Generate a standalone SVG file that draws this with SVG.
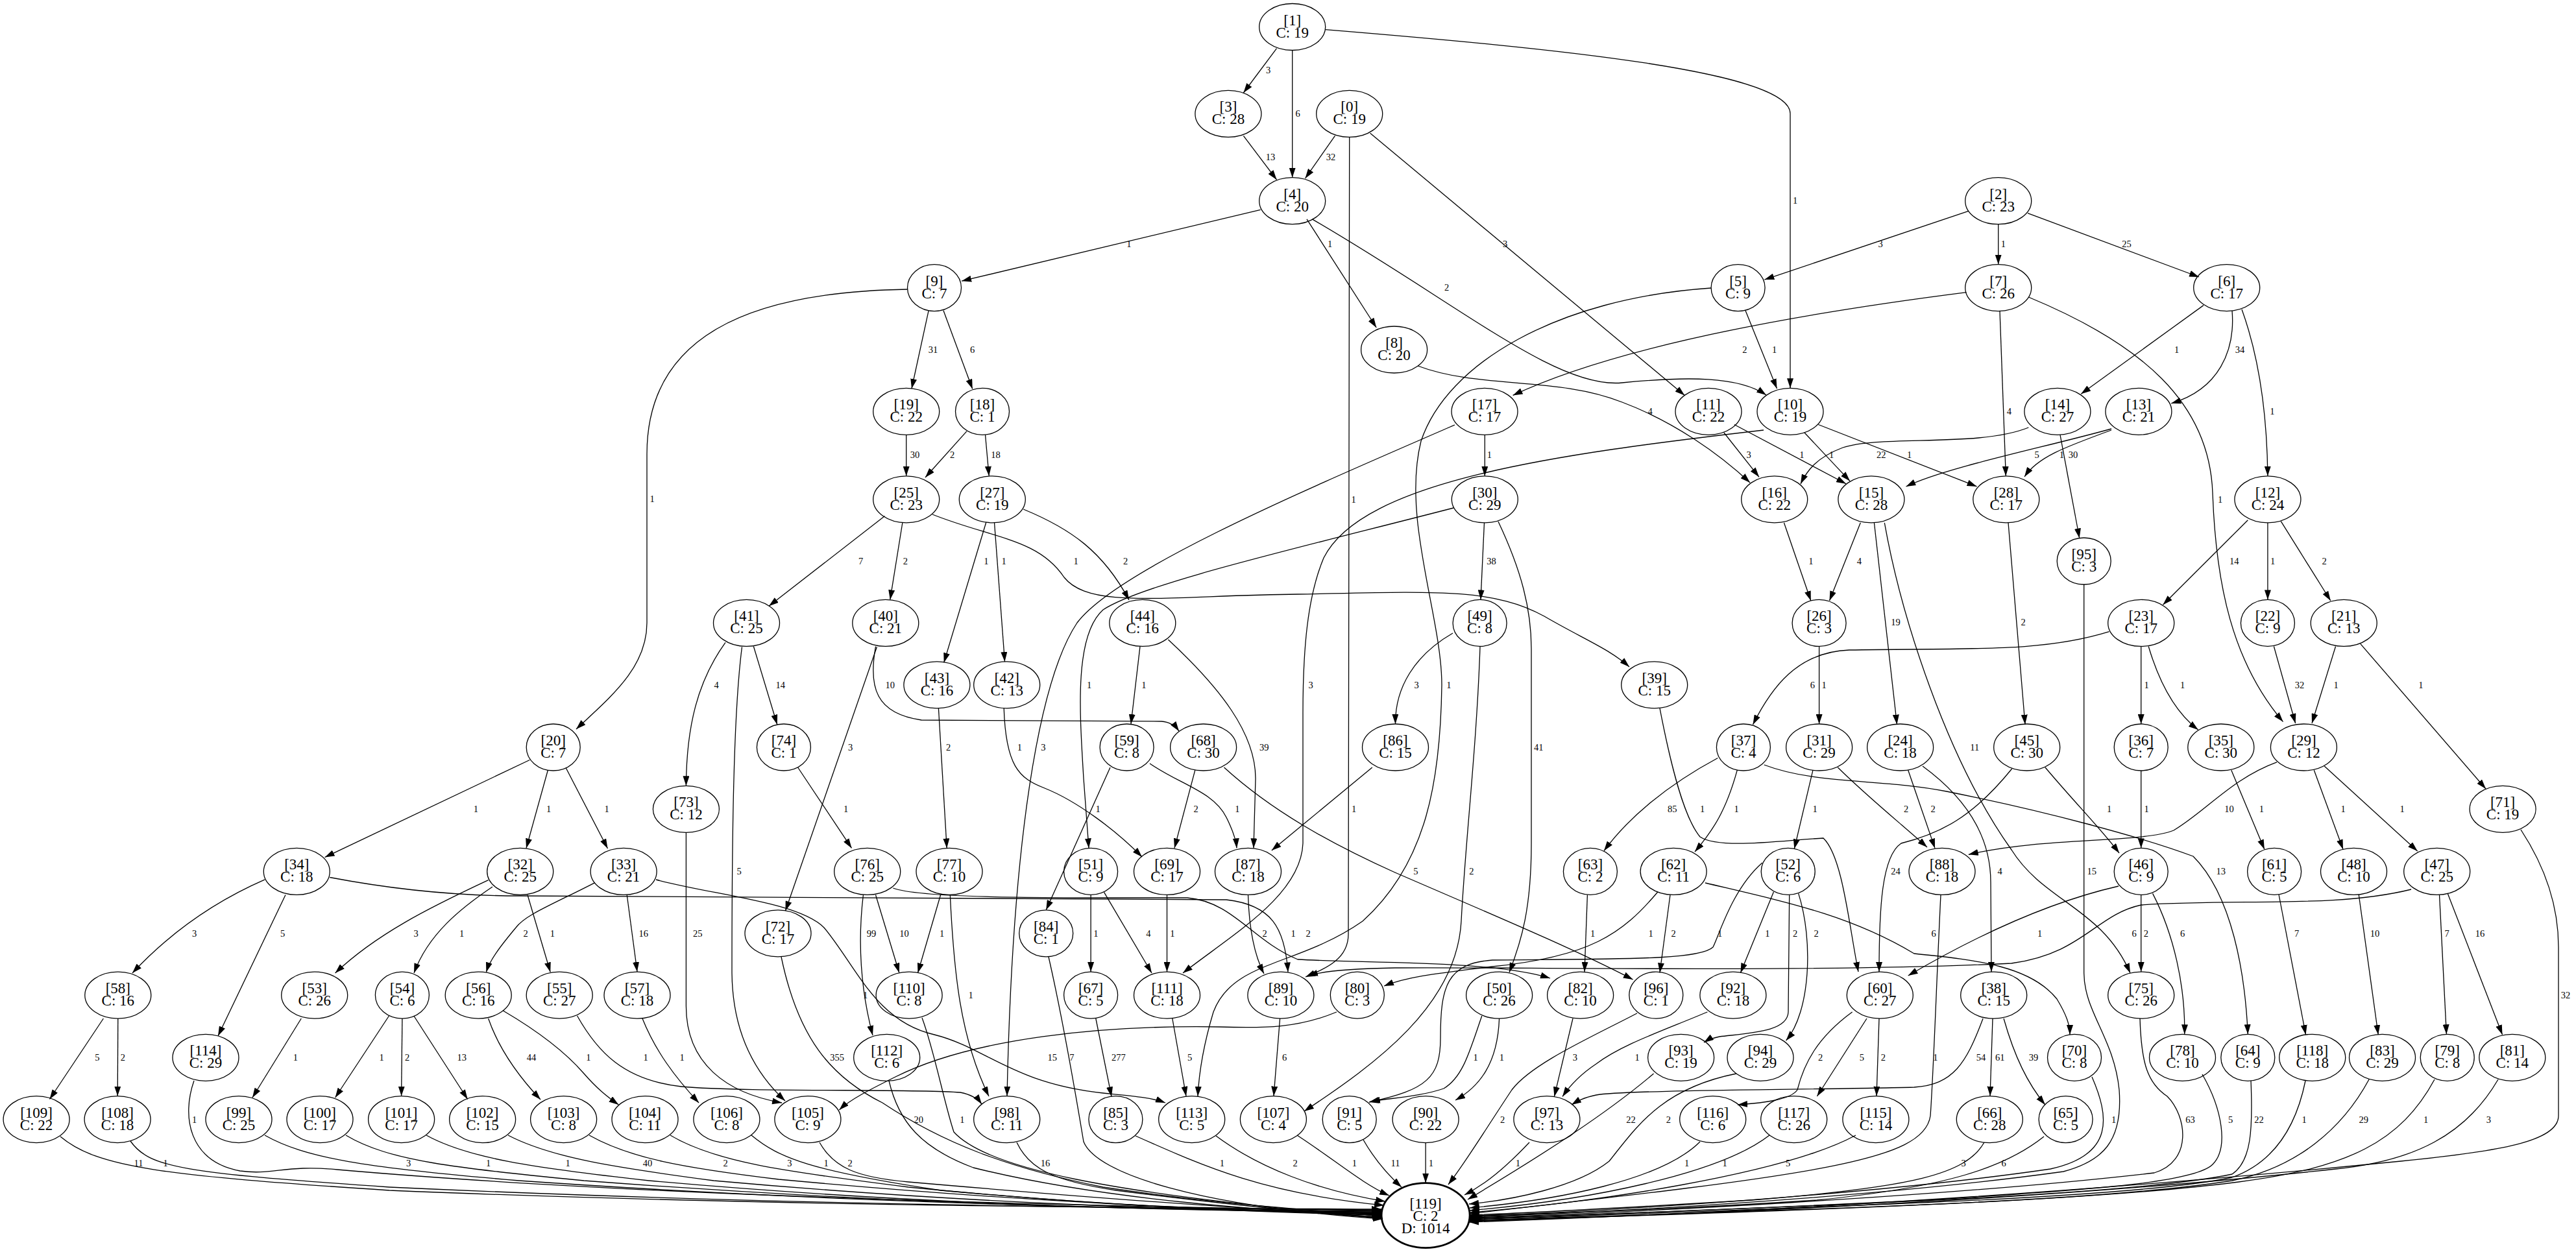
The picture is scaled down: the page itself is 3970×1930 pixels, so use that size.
<svg xmlns="http://www.w3.org/2000/svg" width="3970" height="1930" viewBox="0 0 3970 1930">
<defs>
<marker id="ah" viewBox="0 0 15 10" refX="15" refY="5" markerWidth="15" markerHeight="10" markerUnits="userSpaceOnUse" orient="auto"><path d="M0,0 L15,5 L0,10 z" fill="#000"/></marker>
</defs>
<style>
.node ellipse{fill:none;stroke:#000;stroke-width:1.3}
.node text{font-family:"Liberation Serif","Times New Roman",serif;font-size:23px;text-anchor:middle;fill:#000}
#edges path{fill:none;stroke:#000;stroke-width:1.3;marker-end:url(#ah)}
#edges text{font-family:"Liberation Serif","Times New Roman",serif;font-size:14.5px;text-anchor:middle;fill:#000}
</style>
<rect width="3970" height="1930" fill="#fff"/>
<g id="edges">
<g><path d="M1967.5,74.6 L1916.4,143"/><text x="1954.7" y="112.8">3</text></g>
<g><path d="M1991.7,77.5 L1991.7,273.7"/><text x="2000" y="180">6</text></g>
<g><path d="M2042.7,45.6 C2400,75 2759,110 2759,175 L2759,598.3"/><text x="2766.6" y="313.8">1</text></g>
<g><path d="M1916.4,209.4 L1967.5,277"/><text x="1957.9" y="246.7">13</text></g>
<g><path d="M2057.4,209.4 L2011.5,275"/><text x="2051" y="246.7">32</text></g>
<g><path d="M2111.6,205.2 L2596.3,609.4"/><text x="2319.5" y="380.6">3</text></g>
<g><path d="M2079.7,211.4 L2078,1440 C2078,1478 2045,1492 2012,1506"/><text x="2086" y="774.8">1</text></g>
<g><path d="M1942.6,323.4 L1482.1,433.2"/><text x="1739.8" y="381.4">1</text></g>
<g><path d="M2014,337.9 L2121.2,505"/><text x="2049.7" y="381.4">1</text></g>
<g><path d="M2022.3,337.9 C2250,470 2400,600 2500,590 C2600,580 2680,580 2722,609"/><text x="2229.6" y="447.7">2</text></g>
<g><path d="M1431.1,478.8 L1405,599"/><text x="1438" y="544">31</text></g>
<g><path d="M1454,478.8 L1498.7,599.5"/><text x="1498.7" y="544">6</text></g>
<g><path d="M1398.5,446 C1150,450 997,520 997,700 L997,960 C997,1030 940,1075 888,1124"/><text x="1005" y="773.5">1</text></g>
<g><path d="M3033.8,325.4 L2719.4,431.1"/><text x="2898" y="381.4">3</text></g>
<g><path d="M3079.7,345.7 L3079.7,407.6"/><text x="3087.3" y="381.4">1</text></g>
<g><path d="M3125,328.7 L3389,427"/><text x="3277.4" y="381.4">25</text></g>
<g><path d="M2690,478.8 L2738.5,599"/><text x="2734.7" y="544">1</text></g>
<g><path d="M2637,444 C2400,460 2230,560 2190,680 C2160,800 2222,950 2222,1056 C2220,1200 2200,1330 2100,1420 C2000,1490 1900,1480 1870,1560 C1855,1610 1848,1650 1846,1690"/><text x="2232.8" y="1060.8">1</text></g>
<g><path d="M3396,470.6 L3207.2,607.3"/><text x="3354.6" y="544">1</text></g>
<g><path d="M3440,479 C3445,540 3420,600 3346.3,621.8"/><text x="3452.1" y="544">34</text></g>
<g><path d="M3455,477 C3485,560 3494,650 3494.9,733.8"/><text x="3501.9" y="639.3">1</text></g>
<g><path d="M3030.6,450.6 C2800,480 2500,530 2331.6,609.4"/><text x="2688.8" y="544">2</text></g>
<g><path d="M3082,479.6 L3091.3,733.8"/><text x="3096.3" y="639.3">4</text></g>
<g><path d="M3126.3,458 C3300,530 3405,620 3410,760 C3415,900 3440,1020 3518.5,1112.6"/><text x="3421.5" y="774.8">1</text></g>
<g><path d="M2185,564 C2280,600 2400,580 2500,620 C2580,650 2650,700 2697,744"/><text x="2543" y="639.3">4</text></g>
<g><path d="M2288.3,670.3 L2288.3,733.8"/><text x="2295.3" y="706.4">1</text></g>
<g><path d="M2242,655 C2000,760 1720,880 1660,960 C1600,1050 1560,1300 1552,1689.6"/><text x="1607.8" y="1157">3</text></g>
<g><path d="M2287.5,805.8 L2282,924.4"/><text x="2298.5" y="870">38</text></g>
<g><path d="M2309,804 C2345,880 2360,940 2360,1000 L2360,1300 C2360,1400 2345,1450 2326,1499"/><text x="2371.2" y="1157">41</text></g>
<g><path d="M2240,783 C2000,845 1760,900 1700,940 C1655,980 1664,1100 1670,1200 L1678,1307.4"/><text x="1678.6" y="1060.8">1</text></g>
<g><path d="M2239,976 C2180,1010 2150,1060 2150.5,1116"/><text x="2183" y="1060.8">3</text></g>
<g><path d="M2281,996.4 C2276,1150 2258,1300 2252,1420 C2245,1550 2120,1640 2010,1713"/><text x="2267.9" y="1348.4">2</text></g>
<g><path d="M2656.9,667 L2711,735.3"/><text x="2695" y="706.4">3</text></g>
<g><path d="M2672.8,654.5 L2845,745.7"/><text x="2776.8" y="706.4">1</text></g>
<g><path d="M2781,667 L2851,741.6"/><text x="2822.7" y="706.4">1</text></g>
<g><path d="M2802.3,654.5 L3046.5,749.9"/><text x="2942.6" y="706.4">1</text></g>
<g><path d="M2718,663 C2400,700 2100,740 2040,860 C2015,920 2008,1000 2008,1100 L2008,1300 C2005,1380 1900,1440 1823,1500"/><text x="2020" y="1060.8">3</text></g>
<g><path d="M3126.3,659 C3050,690 2900,670 2840,690 C2800,705 2785,725 2775,746"/><text x="2899.2" y="706.4">22</text></g>
<g><path d="M3175,670.3 L3204.7,829.5"/><text x="3195.1" y="706.4">30</text></g>
<g><path d="M3254,661 C3150,690 3000,720 2937.5,750"/><text x="3139" y="706.4">5</text></g>
<g><path d="M3254,663 C3180,690 3140,705 3120,735"/><text x="3177.3" y="706.4">1</text></g>
<g><path d="M2867.3,805.8 L2819.5,926"/><text x="2865.4" y="870">4</text></g>
<g><path d="M2888.4,805.8 L2923.5,1116.7"/><text x="2921.6" y="964.2">19</text></g>
<g><path d="M2904.3,805.8 C2930,950 3000,1170 3100,1310 C3150,1390 3240,1400 3283,1500"/><text x="3043.3" y="1157">11</text></g>
<g><path d="M2749.4,805.8 L2790.8,926"/><text x="2790.8" y="870">1</text></g>
<g><path d="M2803.6,996.4 L2803.6,1116"/><text x="2811.2" y="1060.8">1</text></g>
<g><path d="M1363.5,795.5 L1185,934.3"/><text x="1326.5" y="870">7</text></g>
<g><path d="M1391,805 L1371.8,924.4"/><text x="1395.4" y="870">2</text></g>
<g><path d="M1437,793 C1530,830 1600,830 1640,890 C1680,940 1800,918 2000,916 C2200,912 2300,905 2380,950 C2440,985 2480,1000 2511,1028"/><text x="1658.2" y="870">1</text></g>
<g><path d="M1396.7,670.3 L1396.7,733.8"/><text x="1410" y="706.4">30</text></g>
<g><path d="M1489.8,664.9 L1426,736"/><text x="1467.5" y="706.4">2</text></g>
<g><path d="M1518.5,670.3 L1524.2,733.8"/><text x="1534.4" y="706.4">18</text></g>
<g><path d="M1519.8,805 L1454.7,1021.4"/><text x="1519.8" y="870">1</text></g>
<g><path d="M1532.5,805.8 L1548.5,1020"/><text x="1547.2" y="870">1</text></g>
<g><path d="M1577.2,785 C1650,815 1700,850 1740,925"/><text x="1734.7" y="870">2</text></g>
<g><path d="M1118,990.3 C1075,1050 1058,1120 1057.4,1211.3"/><text x="1104" y="1060.8">4</text></g>
<g><path d="M1143.5,997.3 C1130,1100 1128,1300 1128,1500 C1129,1600 1170,1660 1210,1697"/><text x="1139" y="1348.4">5</text></g>
<g><path d="M1161.4,996.5 L1197.7,1116.7"/><text x="1202.8" y="1060.8">14</text></g>
<g><path d="M1349.5,996.5 C1338,1060 1350,1100 1420,1110 L1790,1112 C1805,1113 1812,1120 1817,1127"/><text x="1371.8" y="1060.8">10</text></g>
<g><path d="M1351.4,997.3 L1210.5,1404"/><text x="1310.6" y="1157">3</text></g>
<g><path d="M1446.4,1091.8 L1459.2,1307.4"/><text x="1461.7" y="1157">2</text></g>
<g><path d="M1547.2,1091.8 C1550,1180 1570,1200 1610,1215 C1660,1235 1720,1280 1760,1321"/><text x="1571.4" y="1157">1</text></g>
<g><path d="M1757,996.4 L1743,1116"/><text x="1762.8" y="1060.8">1</text></g>
<g><path d="M1800.4,986 C1880,1060 1935,1130 1935,1200 L1932,1307.4"/><text x="1948.3" y="1157">39</text></g>
<g><path d="M1711,1183 L1612.2,1402.8"/><text x="1692" y="1252.3">1</text></g>
<g><path d="M1772,1177 C1820,1210 1870,1220 1890,1260 C1900,1280 1905,1295 1906,1307.4"/><text x="1906.9" y="1252.3">1</text></g>
<g><path d="M1841.8,1187.2 L1810,1307.4"/><text x="1843.1" y="1252.3">2</text></g>
<g><path d="M1886.5,1183 C1960,1250 2050,1300 2150,1345 C2300,1410 2420,1460 2516.6,1510"/><text x="2181.8" y="1348.4">5</text></g>
<g><path d="M1057.4,1283.3 L1057.4,1550 C1057,1640 1120,1685 1205,1700"/><text x="1075.3" y="1443.8">25</text></g>
<g><path d="M1229.6,1183 L1312.5,1307.4"/><text x="1303.6" y="1252.3">1</text></g>
<g><path d="M408.2,1355.9 C330,1390 260,1440 204,1500"/><text x="299.7" y="1443.8">3</text></g>
<g><path d="M440,1379.5 L336,1597"/><text x="435.6" y="1443.8">5</text></g>
<g><path d="M508.3,1352.5 C600,1370 700,1381 800,1381 L1890,1387 C1960,1395 1980,1430 1985,1498.5"/><text x="1993" y="1443.8">1</text></g>
<g><path d="M752.6,1356.7 C660,1400 580,1440 516.6,1500"/><text x="641" y="1443.8">3</text></g>
<g><path d="M759,1367 C710,1400 660,1440 638,1500"/><text x="711.7" y="1443.8">1</text></g>
<g><path d="M813,1379.5 L848.2,1498.5"/><text x="851.4" y="1443.8">1</text></g>
<g><path d="M916.5,1360.8 C850,1395 810,1410 795,1430 C770,1460 755,1480 749.4,1498.5"/><text x="810" y="1443.8">2</text></g>
<g><path d="M966.2,1379.5 L982,1498"/><text x="991.7" y="1443.8">16</text></g>
<g><path d="M1011,1356 C1100,1380 1230,1390 1270,1430 C1320,1490 1350,1575 1440,1595 C1520,1615 1560,1670 1700,1685 C1750,1690 1775,1692 1796,1700"/><text x="1333.5" y="1539.1">1</text></g>
<g><path d="M159.4,1570 L76.5,1694.5"/><text x="149.9" y="1635.3">5</text></g>
<g><path d="M181.8,1570.1 L181.2,1689.6"/><text x="189.4" y="1635.3">2</text></g>
<g><path d="M464.3,1570 L389,1692"/><text x="455.4" y="1635.3">1</text></g>
<g><path d="M599.5,1566 L516.6,1692"/><text x="588" y="1635.3">1</text></g>
<g><path d="M619.9,1570.1 L618.6,1689.6"/><text x="627.6" y="1635.3">2</text></g>
<g><path d="M637.8,1566 L720.7,1694.5"/><text x="711.7" y="1635.3">13</text></g>
<g><path d="M752.6,1570 C770,1620 800,1660 833,1695"/><text x="818.9" y="1635.3">44</text></g>
<g><path d="M774.9,1557.7 C830,1590 870,1620 900,1655 C920,1678 935,1690 953.4,1703"/><text x="906.9" y="1635.3">1</text></g>
<g><path d="M889.6,1566 C920,1620 960,1665 1050,1675 C1150,1684 1400,1678 1480,1684 C1500,1688 1508,1695 1513,1702"/><text x="995" y="1635.3">1</text></g>
<g><path d="M990,1570 C1010,1620 1040,1660 1077,1700"/><text x="1051" y="1635.3">1</text></g>
<g><path d="M1330.4,1379.5 C1322,1450 1325,1520 1345,1596"/><text x="1343.1" y="1443.8">99</text></g>
<g><path d="M1349.5,1379.5 L1385.8,1499.5"/><text x="1393.5" y="1443.8">10</text></g>
<g><path d="M1376.3,1369 C1420,1385 1600,1384 1830,1384 C1900,1390 1930,1450 2000,1479 C2100,1485 2300,1480 2389,1508"/><text x="2016" y="1443.8">2</text></g>
<g><path d="M1449.6,1379.5 L1414.5,1499.7"/><text x="1451.5" y="1443.8">1</text></g>
<g><path d="M1464.3,1379.5 C1470,1500 1480,1600 1524,1690"/><text x="1496.2" y="1539.1">1</text></g>
<g><path d="M1681.1,1379.4 L1681.1,1498"/><text x="1688.8" y="1443.8">1</text></g>
<g><path d="M1701.5,1375.3 L1775,1500"/><text x="1769.8" y="1443.8">4</text></g>
<g><path d="M1798.5,1379.4 L1798.5,1498"/><text x="1806.8" y="1443.8">1</text></g>
<g><path d="M1923.5,1379.4 C1925,1430 1932,1470 1948,1501"/><text x="1949" y="1443.8">2</text></g>
<g><path d="M1688.8,1570 L1713,1690.4"/><text x="1723.9" y="1635.3">277</text></g>
<g><path d="M1806.8,1570 L1828,1689.8"/><text x="1833.5" y="1635.3">5</text></g>
<g><path d="M1972.6,1570 L1963,1689.6"/><text x="1979.6" y="1635.3">6</text></g>
<g><path d="M2114.8,1183 L1959.8,1311"/><text x="2086.7" y="1252.3">1</text></g>
<g><path d="M2060,1560 C2000,1585 1950,1585 1880,1583 C1700,1580 1500,1600 1380,1660 C1340,1680 1310,1695 1293.4,1711"/><text x="1621.8" y="1635.3">15</text></g>
<g><path d="M2647.3,1168.5 C2570,1210 2510,1260 2472,1311.5"/><text x="2577.2" y="1252.3">85</text></g>
<g><path d="M2677.3,1187.2 C2660,1250 2640,1280 2612,1313"/><text x="2676" y="1252.3">1</text></g>
<g><path d="M2718.7,1179 C2800,1210 2900,1200 3000,1220 C3150,1250 3300,1290 3380,1320 C3440,1380 3460,1500 3464.3,1594.3"/><text x="3422.8" y="1348.4">13</text></g>
<g><path d="M2794,1187.2 L2765.3,1308.5"/><text x="2797.2" y="1252.3">1</text></g>
<g><path d="M2832.3,1183 C2880,1230 2930,1270 2970,1306"/><text x="2937.5" y="1252.3">2</text></g>
<g><path d="M2940.7,1187.2 L2982,1307.6"/><text x="2979" y="1252.3">2</text></g>
<g><path d="M2963,1181 C3030,1230 3068,1290 3068,1360 L3069,1498"/><text x="3082" y="1348.4">4</text></g>
<g><path d="M3250.6,973.7 C3150,1005 3050,999 2850,1002 C2770,1005 2730,1060 2701.5,1117"/><text x="2793.3" y="1060.8">6</text></g>
<g><path d="M3299.7,996.4 L3299.7,1116"/><text x="3308" y="1060.8">1</text></g>
<g><path d="M3311.2,996.5 C3330,1060 3355,1100 3387.7,1125"/><text x="3363.5" y="1060.8">1</text></g>
<g><path d="M3504.4,996.5 L3537.6,1115"/><text x="3544" y="1060.8">32</text></g>
<g><path d="M3599.5,996.5 L3563,1115"/><text x="3600" y="1060.8">1</text></g>
<g><path d="M3637.7,992.4 L3831,1216"/><text x="3730.8" y="1060.8">1</text></g>
<g><path d="M3464.3,801.7 L3333.5,932.3"/><text x="3443.2" y="870">14</text></g>
<g><path d="M3494.9,805.8 L3494.9,924.4"/><text x="3502.5" y="870">1</text></g>
<g><path d="M3515.3,803.7 L3591.8,926"/><text x="3582.2" y="870">2</text></g>
<g><path d="M3095,805.8 L3121,1116.7"/><text x="3118" y="964.2">2</text></g>
<g><path d="M3100.7,1185 C3040,1260 2990,1285 2930,1300 C2900,1320 2896,1400 2896,1498"/><text x="2921.6" y="1348.4">24</text></g>
<g><path d="M3152,1183 C3200,1240 3240,1280 3266,1315"/><text x="3250.6" y="1252.3">1</text></g>
<g><path d="M3299.7,1188 L3299.7,1307.4"/><text x="3308" y="1252.3">1</text></g>
<g><path d="M3509,1174.8 C3440,1200 3400,1250 3350,1280 C3300,1300 3150,1290 3033.8,1317.3"/><text x="3435.6" y="1252.3">10</text></g>
<g><path d="M3438.8,1187.2 L3489.8,1309.2"/><text x="3485.3" y="1252.3">1</text></g>
<g><path d="M3566.3,1187.2 L3611,1309.2"/><text x="3611" y="1252.3">1</text></g>
<g><path d="M3582.2,1181 L3725.7,1312"/><text x="3702" y="1252.3">1</text></g>
<g><path d="M3299.7,1379.4 L3299.7,1498"/><text x="3307.4" y="1443.8">2</text></g>
<g><path d="M3317.6,1377.4 C3350,1440 3368,1520 3366.7,1594.3"/><text x="3363.5" y="1443.8">6</text></g>
<g><path d="M3265,1366 C3160,1390 3050,1440 2940.7,1504"/><text x="3143.5" y="1443.8">1</text></g>
<g><path d="M3512,1379 L3553.5,1595"/><text x="3539.5" y="1443.8">7</text></g>
<g><path d="M3635.2,1379 L3665.2,1595"/><text x="3660" y="1443.8">10</text></g>
<g><path d="M3759.5,1379.4 L3770.4,1594.3"/><text x="3771" y="1443.8">7</text></g>
<g><path d="M3772.3,1377.4 L3856.5,1595"/><text x="3822" y="1443.8">16</text></g>
<g><path d="M3716,1371 C3600,1400 3450,1385 3300,1395 C3230,1410 3210,1470 3100,1485 C2800,1500 2300,1490 2150,1492 C2080,1493 2040,1497 2016,1504"/><text x="3289" y="1443.8">6</text></g>
<g><path d="M3071,1570 L3067,1689.6"/><text x="3082.2" y="1635.3">61</text></g>
<g><path d="M3088,1570 C3105,1630 3125,1670 3151.8,1703"/><text x="3133.9" y="1635.3">39</text></g>
<g><path d="M3056.1,1570 C3030,1640 3010,1672 2950,1676 C2800,1680 2500,1680 2460,1688 C2440,1692 2430,1698 2422,1703"/><text x="3053" y="1635.3">54</text></g>
<g><path d="M2854.6,1560 C2800,1600 2780,1640 2770,1680 C2760,1695 2720,1700 2678,1703"/><text x="2805.5" y="1635.3">2</text></g>
<g><path d="M2877,1570 L2800.4,1690"/><text x="2869.3" y="1635.3">5</text></g>
<g><path d="M2896,1570.1 L2892,1689.6"/><text x="2902.4" y="1635.3">2</text></g>
<g><path d="M2631.4,1560 C2560,1590 2500,1610 2460,1640 C2430,1660 2415,1680 2408,1690.4"/><text x="2523" y="1635.3">1</text></g>
<g><path d="M2424,1570 L2395.4,1690.4"/><text x="2427.3" y="1635.3">3</text></g>
<g><path d="M2283.8,1566 C2265,1620 2255,1660 2225,1678 C2190,1690 2150,1692 2112,1698"/><text x="2274.2" y="1635.3">1</text></g>
<g><path d="M2310.6,1570 C2308,1640 2280,1675 2243,1696"/><text x="2314.4" y="1635.3">1</text></g>
<g><path d="M2446.4,1379.5 L2442,1498"/><text x="2454.7" y="1443.8">1</text></g>
<g><path d="M2554.8,1375 C2500,1440 2450,1475 2300,1490 C2220,1500 2170,1505 2133,1520"/><text x="2544" y="1443.8">1</text></g>
<g><path d="M2574,1379.5 L2558,1499.5"/><text x="2579" y="1443.8">2</text></g>
<g><path d="M2628,1361 C2750,1390 2850,1410 2950,1470 C3050,1480 3130,1490 3170,1540 C3185,1565 3190,1580 3190,1595"/><text x="2980" y="1443.8">6</text></g>
<g><path d="M2733.4,1375 L2682.4,1499.7"/><text x="2723.9" y="1443.8">1</text></g>
<g><path d="M2757.7,1379.5 L2756,1560 C2755,1590 2700,1592 2650,1598 C2640,1600 2632,1603 2626,1607"/><text x="2766.6" y="1443.8">2</text></g>
<g><path d="M2771.7,1377.4 C2795,1450 2790,1560 2752.6,1604"/><text x="2799" y="1443.8">2</text></g>
<g><path d="M2716,1330 C2670,1370 2650,1440 2640,1460 C2620,1480 2500,1478 2300,1480 C2230,1485 2220,1520 2220,1600 C2220,1660 2200,1680 2110,1699"/><text x="2650.5" y="1443.8">1</text></g>
<g><path d="M2558,1091.8 C2575,1180 2595,1260 2620,1290 C2650,1310 2750,1295 2810,1292 C2840,1320 2850,1430 2864,1498"/><text x="2623.7" y="1252.3">1</text></g>
<g><path d="M816.3,1171.5 L500.6,1321.5"/><text x="733.4" y="1252.3">1</text></g>
<g><path d="M844.3,1187.5 L811,1307.5"/><text x="845.7" y="1252.3">1</text></g>
<g><path d="M872.3,1184 L936.5,1308"/><text x="935" y="1252.3">1</text></g>
<g><path d="M1204,1475 C1230,1600 1280,1660 1360,1700 C1450,1760 1550,1800 1700,1830 C1900,1860 2050,1866 2130,1875"/><text x="1290.2" y="1635.3">355</text></g>
<g><path d="M93,1752 C150,1800 250,1812 600,1835 C1200,1860 1800,1862 2129,1864"/><text x="213.6" y="1797.8">11</text></g>
<g><path d="M201,1759 C230,1800 280,1808 600,1830 C1200,1858 1800,1863 2129,1865"/><text x="255.1" y="1797.8">1</text></g>
<g><path d="M299,1666 C280,1720 290,1790 370,1805 C420,1812 440,1795 520,1803 C1000,1845 1700,1860 2129,1866"/><text x="299.7" y="1730.6">1</text></g>
<g><path d="M408,1750 C470,1785 560,1800 800,1820 C1300,1855 1800,1865 2129,1867"/><text x="629.5" y="1797.8">3</text></g>
<g><path d="M533,1750 C600,1790 700,1800 900,1820 C1400,1858 1800,1866 2129,1868"/><text x="752.6" y="1797.8">1</text></g>
<g><path d="M657,1750 C720,1785 820,1800 1000,1820 C1400,1856 1800,1867 2129,1869"/><text x="875" y="1797.8">1</text></g>
<g><path d="M783,1750 C850,1785 950,1800 1100,1820 C1500,1856 1850,1866 2129,1870"/><text x="998" y="1797.8">40</text></g>
<g><path d="M908,1750 C970,1785 1050,1800 1200,1818 C1600,1855 1900,1866 2129,1871"/><text x="1118" y="1797.8">2</text></g>
<g><path d="M1033,1750 C1100,1790 1200,1805 1400,1830 C1700,1860 1950,1868 2129,1872"/><text x="1216.8" y="1797.8">3</text></g>
<g><path d="M1158,1750 C1200,1785 1250,1805 1450,1835 C1750,1862 1950,1869 2129,1873"/><text x="1273" y="1797.8">1</text></g>
<g><path d="M1263,1761 C1285,1800 1320,1815 1400,1822 C1700,1848 1950,1866 2130,1874"/><text x="1310" y="1797.8">2</text></g>
<g><path d="M1370,1666 C1385,1730 1420,1770 1500,1800 C1700,1850 1950,1866 2130,1876"/><text x="1415.8" y="1730.6">20</text></g>
<g><path d="M1421,1569 C1440,1620 1455,1700 1470,1745 C1520,1800 1700,1840 2130,1877"/><text x="1482.8" y="1730.6">1</text></g>
<g><path d="M1567,1761 C1585,1800 1620,1820 1720,1835 C1900,1858 2050,1872 2131,1878"/><text x="1611" y="1797.8">16</text></g>
<g><path d="M1616,1475 C1640,1580 1660,1700 1670,1760 C1690,1810 1850,1860 2131,1879"/><text x="1651.8" y="1635.3">7</text></g>
<g><path d="M1750,1751 C1860,1800 1950,1840 2133,1858"/><text x="1883.3" y="1797.8">1</text></g>
<g><path d="M1874,1751 C1940,1800 2030,1835 2135,1852"/><text x="1996" y="1797.8">2</text></g>
<g><path d="M1999,1750 C2060,1790 2100,1825 2141,1843"/><text x="2087.4" y="1797.8">1</text></g>
<g><path d="M2101,1757 C2120,1790 2140,1812 2160,1830"/><text x="2150.5" y="1797.8">11</text></g>
<g><path d="M2197.1,1761.6 L2197.1,1823.6"/><text x="2205.4" y="1797.8">1</text></g>
<g><path d="M2357,1761 C2320,1800 2290,1825 2257,1842"/><text x="2339.3" y="1797.8">1</text></g>
<g><path d="M2523,1562 C2450,1600 2360,1640 2330,1680 C2290,1740 2260,1790 2232,1826"/><text x="2315.7" y="1730.6">2</text></g>
<g><path d="M2548.5,1655 C2478,1715 2382.6,1777 2262,1849"/><text x="2513.4" y="1730.6">22</text></g>
<g><path d="M2676,1655 C2561,1678 2523,1736 2480,1790 C2430,1830 2330,1850 2264,1856"/><text x="2571.4" y="1730.6">2</text></g>
<g><path d="M2620,1760 C2560,1820 2400,1850 2265,1862"/><text x="2599.5" y="1797.8">1</text></g>
<g><path d="M2727,1750 C2650,1810 2450,1850 2265,1866"/><text x="2658.2" y="1797.8">1</text></g>
<g><path d="M2860,1750 C2750,1810 2450,1855 2265,1869"/><text x="2755.7" y="1797.8">5</text></g>
<g><path d="M2991,1379.4 C2985,1500 2980,1650 2975,1720 C2965,1790 2800,1810 2265,1871"/><text x="2982.8" y="1635.3">1</text></g>
<g><path d="M3058,1761 C3030,1810 2950,1830 2700,1850 C2500,1862 2350,1870 2265,1873"/><text x="3026.1" y="1797.8">3</text></g>
<g><path d="M3150,1752 C3090,1800 3000,1830 2800,1850 C2550,1866 2350,1872 2265,1874"/><text x="3088" y="1797.8">6</text></g>
<g><path d="M3224,1660 C3250,1720 3260,1780 3160,1802 C2900,1840 2500,1866 2265,1875"/><text x="3257.6" y="1730.6">1</text></g>
<g><path d="M3211.7,901 L3211.7,1500 C3212,1560 3258,1600 3266,1680 C3272,1760 3240,1790 3180,1806 C2900,1845 2500,1868 2265,1876"/><text x="3223.8" y="1348.4">15</text></g>
<g><path d="M3298,1570 C3300,1640 3310,1670 3340,1690 C3370,1720 3380,1790 3320,1808 C3000,1845 2500,1870 2265,1877"/><text x="3375.6" y="1730.6">63</text></g>
<g><path d="M3394,1656 C3425,1710 3435,1770 3410,1795 C3380,1825 3200,1835 2970,1850 C2600,1868 2350,1876 2265,1878"/><text x="3437.5" y="1730.6">5</text></g>
<g><path d="M3469,1666 C3472,1740 3470,1790 3440,1810 C3300,1840 2900,1856 2265,1879"/><text x="3481.5" y="1730.6">22</text></g>
<g><path d="M3553,1666 C3540,1730 3510,1790 3440,1815 C3300,1845 2900,1858 2265,1880"/><text x="3551" y="1730.6">1</text></g>
<g><path d="M3651,1664 C3610,1740 3540,1800 3440,1820 C3250,1850 2900,1862 2264,1881"/><text x="3642.8" y="1730.6">29</text></g>
<g><path d="M3752,1664 C3700,1760 3620,1800 3450,1822 C3250,1848 2900,1863 2264,1882"/><text x="3738.5" y="1730.6">1</text></g>
<g><path d="M3850,1664 C3800,1750 3720,1790 3600,1802 C3300,1835 2900,1862 2264,1883"/><text x="3835.4" y="1730.6">3</text></g>
<g><path d="M3885,1279 C3925,1340 3943,1400 3943,1460 L3943,1720 C3943,1760 3850,1775 3700,1790 C3300,1830 2800,1866 2264,1884"/><text x="3954" y="1539.1">32</text></g>
</g>
<g id="nodes">
<g id="node0" class="node"><ellipse cx="2079.7" cy="175.4" rx="51" ry="36"/><text x="2079.7" y="172.4">[0]</text><text x="2079.7" y="191.4">C: 19</text></g>
<g id="node1" class="node"><ellipse cx="1991.7" cy="41.5" rx="51" ry="36"/><text x="1991.7" y="38.5">[1]</text><text x="1991.7" y="57.5">C: 19</text></g>
<g id="node2" class="node"><ellipse cx="3079.7" cy="309.7" rx="51" ry="36"/><text x="3079.7" y="306.7">[2]</text><text x="3079.7" y="325.7">C: 23</text></g>
<g id="node3" class="node"><ellipse cx="1892.9" cy="175.4" rx="51" ry="36"/><text x="1892.9" y="172.4">[3]</text><text x="1892.9" y="191.4">C: 28</text></g>
<g id="node4" class="node"><ellipse cx="1991.7" cy="309.7" rx="51" ry="36"/><text x="1991.7" y="306.7">[4]</text><text x="1991.7" y="325.7">C: 20</text></g>
<g id="node5" class="node"><ellipse cx="2678.6" cy="443.6" rx="41.5" ry="36"/><text x="2678.6" y="440.6">[5]</text><text x="2678.6" y="459.6">C: 9</text></g>
<g id="node6" class="node"><ellipse cx="3431.7" cy="443.6" rx="51" ry="36"/><text x="3431.7" y="440.6">[6]</text><text x="3431.7" y="459.6">C: 17</text></g>
<g id="node7" class="node"><ellipse cx="3079.7" cy="443.6" rx="51" ry="36"/><text x="3079.7" y="440.6">[7]</text><text x="3079.7" y="459.6">C: 26</text></g>
<g id="node8" class="node"><ellipse cx="2148.6" cy="539" rx="51" ry="36"/><text x="2148.6" y="536">[8]</text><text x="2148.6" y="555">C: 20</text></g>
<g id="node9" class="node"><ellipse cx="1440" cy="443.6" rx="41.5" ry="36"/><text x="1440" y="440.6">[9]</text><text x="1440" y="459.6">C: 7</text></g>
<g id="node10" class="node"><ellipse cx="2759" cy="634.3" rx="51" ry="36"/><text x="2759" y="631.3">[10]</text><text x="2759" y="650.3">C: 19</text></g>
<g id="node11" class="node"><ellipse cx="2633" cy="634.3" rx="51" ry="36"/><text x="2633" y="631.3">[11]</text><text x="2633" y="650.3">C: 22</text></g>
<g id="node12" class="node"><ellipse cx="3494.9" cy="769.8" rx="51" ry="36"/><text x="3494.9" y="766.8">[12]</text><text x="3494.9" y="785.8">C: 24</text></g>
<g id="node13" class="node"><ellipse cx="3295.9" cy="634.3" rx="51" ry="36"/><text x="3295.9" y="631.3">[13]</text><text x="3295.9" y="650.3">C: 21</text></g>
<g id="node14" class="node"><ellipse cx="3170.9" cy="634.3" rx="51" ry="36"/><text x="3170.9" y="631.3">[14]</text><text x="3170.9" y="650.3">C: 27</text></g>
<g id="node15" class="node"><ellipse cx="2883.9" cy="769.8" rx="51" ry="36"/><text x="2883.9" y="766.8">[15]</text><text x="2883.9" y="785.8">C: 28</text></g>
<g id="node16" class="node"><ellipse cx="2734.7" cy="769.8" rx="51" ry="36"/><text x="2734.7" y="766.8">[16]</text><text x="2734.7" y="785.8">C: 22</text></g>
<g id="node17" class="node"><ellipse cx="2288" cy="634.3" rx="51" ry="36"/><text x="2288" y="631.3">[17]</text><text x="2288" y="650.3">C: 17</text></g>
<g id="node18" class="node"><ellipse cx="1514" cy="634.3" rx="41.5" ry="36"/><text x="1514" y="631.3">[18]</text><text x="1514" y="650.3">C: 1</text></g>
<g id="node19" class="node"><ellipse cx="1396.7" cy="634.3" rx="51" ry="36"/><text x="1396.7" y="631.3">[19]</text><text x="1396.7" y="650.3">C: 22</text></g>
<g id="node20" class="node"><ellipse cx="852.7" cy="1152" rx="41.5" ry="36"/><text x="852.7" y="1149">[20]</text><text x="852.7" y="1168">C: 7</text></g>
<g id="node21" class="node"><ellipse cx="3612.2" cy="960.4" rx="51" ry="36"/><text x="3612.2" y="957.4">[21]</text><text x="3612.2" y="976.4">C: 13</text></g>
<g id="node22" class="node"><ellipse cx="3494.9" cy="960.4" rx="41.5" ry="36"/><text x="3494.9" y="957.4">[22]</text><text x="3494.9" y="976.4">C: 9</text></g>
<g id="node23" class="node"><ellipse cx="3299.7" cy="960.4" rx="51" ry="36"/><text x="3299.7" y="957.4">[23]</text><text x="3299.7" y="976.4">C: 17</text></g>
<g id="node24" class="node"><ellipse cx="2928.6" cy="1152" rx="51" ry="36"/><text x="2928.6" y="1149">[24]</text><text x="2928.6" y="1168">C: 18</text></g>
<g id="node25" class="node"><ellipse cx="1396.7" cy="769.8" rx="51" ry="36"/><text x="1396.7" y="766.8">[25]</text><text x="1396.7" y="785.8">C: 23</text></g>
<g id="node26" class="node"><ellipse cx="2803.6" cy="960.4" rx="41.5" ry="36"/><text x="2803.6" y="957.4">[26]</text><text x="2803.6" y="976.4">C: 3</text></g>
<g id="node27" class="node"><ellipse cx="1529.3" cy="769.8" rx="51" ry="36"/><text x="1529.3" y="766.8">[27]</text><text x="1529.3" y="785.8">C: 19</text></g>
<g id="node28" class="node"><ellipse cx="3091.8" cy="769.8" rx="51" ry="36"/><text x="3091.8" y="766.8">[28]</text><text x="3091.8" y="785.8">C: 17</text></g>
<g id="node29" class="node"><ellipse cx="3550.4" cy="1152" rx="51" ry="36"/><text x="3550.4" y="1149">[29]</text><text x="3550.4" y="1168">C: 12</text></g>
<g id="node30" class="node"><ellipse cx="2288.3" cy="769.8" rx="51" ry="36"/><text x="2288.3" y="766.8">[30]</text><text x="2288.3" y="785.8">C: 29</text></g>
<g id="node31" class="node"><ellipse cx="2803.6" cy="1152" rx="51" ry="36"/><text x="2803.6" y="1149">[31]</text><text x="2803.6" y="1168">C: 29</text></g>
<g id="node32" class="node"><ellipse cx="801.7" cy="1343.4" rx="51" ry="36"/><text x="801.7" y="1340.4">[32]</text><text x="801.7" y="1359.4">C: 25</text></g>
<g id="node33" class="node"><ellipse cx="961.1" cy="1343.4" rx="51" ry="36"/><text x="961.1" y="1340.4">[33]</text><text x="961.1" y="1359.4">C: 21</text></g>
<g id="node34" class="node"><ellipse cx="457.3" cy="1343.4" rx="51" ry="36"/><text x="457.3" y="1340.4">[34]</text><text x="457.3" y="1359.4">C: 18</text></g>
<g id="node35" class="node"><ellipse cx="3422.8" cy="1152" rx="51" ry="36"/><text x="3422.8" y="1149">[35]</text><text x="3422.8" y="1168">C: 30</text></g>
<g id="node36" class="node"><ellipse cx="3299.7" cy="1152" rx="41.5" ry="36"/><text x="3299.7" y="1149">[36]</text><text x="3299.7" y="1168">C: 7</text></g>
<g id="node37" class="node"><ellipse cx="2686.9" cy="1152" rx="41.5" ry="36"/><text x="2686.9" y="1149">[37]</text><text x="2686.9" y="1168">C: 4</text></g>
<g id="node38" class="node"><ellipse cx="3072.7" cy="1534.1" rx="51" ry="36"/><text x="3072.7" y="1531.1">[38]</text><text x="3072.7" y="1550.1">C: 15</text></g>
<g id="node39" class="node"><ellipse cx="2549.7" cy="1055.8" rx="51" ry="36"/><text x="2549.7" y="1052.8">[39]</text><text x="2549.7" y="1071.8">C: 15</text></g>
<g id="node40" class="node"><ellipse cx="1364.8" cy="960.4" rx="51" ry="36"/><text x="1364.8" y="957.4">[40]</text><text x="1364.8" y="976.4">C: 21</text></g>
<g id="node41" class="node"><ellipse cx="1150.5" cy="960.4" rx="51" ry="36"/><text x="1150.5" y="957.4">[41]</text><text x="1150.5" y="976.4">C: 25</text></g>
<g id="node42" class="node"><ellipse cx="1551.7" cy="1055.8" rx="51" ry="36"/><text x="1551.7" y="1052.8">[42]</text><text x="1551.7" y="1071.8">C: 13</text></g>
<g id="node43" class="node"><ellipse cx="1443.9" cy="1055.8" rx="51" ry="36"/><text x="1443.9" y="1052.8">[43]</text><text x="1443.9" y="1071.8">C: 16</text></g>
<g id="node44" class="node"><ellipse cx="1760.8" cy="960.4" rx="51" ry="36"/><text x="1760.8" y="957.4">[44]</text><text x="1760.8" y="976.4">C: 16</text></g>
<g id="node45" class="node"><ellipse cx="3123.7" cy="1152" rx="51" ry="36"/><text x="3123.7" y="1149">[45]</text><text x="3123.7" y="1168">C: 30</text></g>
<g id="node46" class="node"><ellipse cx="3299.7" cy="1343.4" rx="41.5" ry="36"/><text x="3299.7" y="1340.4">[46]</text><text x="3299.7" y="1359.4">C: 9</text></g>
<g id="node47" class="node"><ellipse cx="3755.7" cy="1343.4" rx="51" ry="36"/><text x="3755.7" y="1340.4">[47]</text><text x="3755.7" y="1359.4">C: 25</text></g>
<g id="node48" class="node"><ellipse cx="3627.5" cy="1343.4" rx="51" ry="36"/><text x="3627.5" y="1340.4">[48]</text><text x="3627.5" y="1359.4">C: 10</text></g>
<g id="node49" class="node"><ellipse cx="2280.6" cy="960.4" rx="41.5" ry="36"/><text x="2280.6" y="957.4">[49]</text><text x="2280.6" y="976.4">C: 8</text></g>
<g id="node50" class="node"><ellipse cx="2310.6" cy="1534.1" rx="51" ry="36"/><text x="2310.6" y="1531.1">[50]</text><text x="2310.6" y="1550.1">C: 26</text></g>
<g id="node51" class="node"><ellipse cx="1681.1" cy="1343.4" rx="41.5" ry="36"/><text x="1681.1" y="1340.4">[51]</text><text x="1681.1" y="1359.4">C: 9</text></g>
<g id="node52" class="node"><ellipse cx="2755.7" cy="1343.4" rx="41.5" ry="36"/><text x="2755.7" y="1340.4">[52]</text><text x="2755.7" y="1359.4">C: 6</text></g>
<g id="node53" class="node"><ellipse cx="484.7" cy="1534.1" rx="51" ry="36"/><text x="484.7" y="1531.1">[53]</text><text x="484.7" y="1550.1">C: 26</text></g>
<g id="node54" class="node"><ellipse cx="619.9" cy="1534.1" rx="41.5" ry="36"/><text x="619.9" y="1531.1">[54]</text><text x="619.9" y="1550.1">C: 6</text></g>
<g id="node55" class="node"><ellipse cx="862.2" cy="1534.1" rx="51" ry="36"/><text x="862.2" y="1531.1">[55]</text><text x="862.2" y="1550.1">C: 27</text></g>
<g id="node56" class="node"><ellipse cx="737.2" cy="1534.1" rx="51" ry="36"/><text x="737.2" y="1531.1">[56]</text><text x="737.2" y="1550.1">C: 16</text></g>
<g id="node57" class="node"><ellipse cx="982" cy="1534.1" rx="51" ry="36"/><text x="982" y="1531.1">[57]</text><text x="982" y="1550.1">C: 18</text></g>
<g id="node58" class="node"><ellipse cx="181.8" cy="1534.1" rx="51" ry="36"/><text x="181.8" y="1531.1">[58]</text><text x="181.8" y="1550.1">C: 16</text></g>
<g id="node59" class="node"><ellipse cx="1736.6" cy="1152" rx="41.5" ry="36"/><text x="1736.6" y="1149">[59]</text><text x="1736.6" y="1168">C: 8</text></g>
<g id="node60" class="node"><ellipse cx="2897.3" cy="1534.1" rx="51" ry="36"/><text x="2897.3" y="1531.1">[60]</text><text x="2897.3" y="1550.1">C: 27</text></g>
<g id="node61" class="node"><ellipse cx="3505.1" cy="1343.4" rx="41.5" ry="36"/><text x="3505.1" y="1340.4">[61]</text><text x="3505.1" y="1359.4">C: 5</text></g>
<g id="node62" class="node"><ellipse cx="2579.1" cy="1343.4" rx="51" ry="36"/><text x="2579.1" y="1340.4">[62]</text><text x="2579.1" y="1359.4">C: 11</text></g>
<g id="node63" class="node"><ellipse cx="2450.9" cy="1343.4" rx="41.5" ry="36"/><text x="2450.9" y="1340.4">[63]</text><text x="2450.9" y="1359.4">C: 2</text></g>
<g id="node64" class="node"><ellipse cx="3464.3" cy="1630.3" rx="41.5" ry="36"/><text x="3464.3" y="1627.3">[64]</text><text x="3464.3" y="1646.3">C: 9</text></g>
<g id="node65" class="node"><ellipse cx="3183.6" cy="1725.6" rx="41.5" ry="36"/><text x="3183.6" y="1722.6">[65]</text><text x="3183.6" y="1741.6">C: 5</text></g>
<g id="node66" class="node"><ellipse cx="3066.3" cy="1725.6" rx="51" ry="36"/><text x="3066.3" y="1722.6">[66]</text><text x="3066.3" y="1741.6">C: 28</text></g>
<g id="node67" class="node"><ellipse cx="1681.1" cy="1534.1" rx="41.5" ry="36"/><text x="1681.1" y="1531.1">[67]</text><text x="1681.1" y="1550.1">C: 5</text></g>
<g id="node68" class="node"><ellipse cx="1854.6" cy="1152" rx="51" ry="36"/><text x="1854.6" y="1149">[68]</text><text x="1854.6" y="1168">C: 30</text></g>
<g id="node69" class="node"><ellipse cx="1798.5" cy="1343.4" rx="51" ry="36"/><text x="1798.5" y="1340.4">[69]</text><text x="1798.5" y="1359.4">C: 17</text></g>
<g id="node70" class="node"><ellipse cx="3197" cy="1630.3" rx="41.5" ry="36"/><text x="3197" y="1627.3">[70]</text><text x="3197" y="1646.3">C: 8</text></g>
<g id="node71" class="node"><ellipse cx="3857.1" cy="1247.3" rx="51" ry="36"/><text x="3857.1" y="1244.3">[71]</text><text x="3857.1" y="1263.3">C: 19</text></g>
<g id="node72" class="node"><ellipse cx="1199" cy="1438.8" rx="51" ry="36"/><text x="1199" y="1435.8">[72]</text><text x="1199" y="1454.8">C: 17</text></g>
<g id="node73" class="node"><ellipse cx="1057.4" cy="1247.3" rx="51" ry="36"/><text x="1057.4" y="1244.3">[73]</text><text x="1057.4" y="1263.3">C: 12</text></g>
<g id="node74" class="node"><ellipse cx="1207.9" cy="1152" rx="41.5" ry="36"/><text x="1207.9" y="1149">[74]</text><text x="1207.9" y="1168">C: 1</text></g>
<g id="node75" class="node"><ellipse cx="3299.7" cy="1534.1" rx="51" ry="36"/><text x="3299.7" y="1531.1">[75]</text><text x="3299.7" y="1550.1">C: 26</text></g>
<g id="node76" class="node"><ellipse cx="1336.7" cy="1343.4" rx="51" ry="36"/><text x="1336.7" y="1340.4">[76]</text><text x="1336.7" y="1359.4">C: 25</text></g>
<g id="node77" class="node"><ellipse cx="1463" cy="1343.4" rx="51" ry="36"/><text x="1463" y="1340.4">[77]</text><text x="1463" y="1359.4">C: 10</text></g>
<g id="node78" class="node"><ellipse cx="3363.5" cy="1630.3" rx="51" ry="36"/><text x="3363.5" y="1627.3">[78]</text><text x="3363.5" y="1646.3">C: 10</text></g>
<g id="node79" class="node"><ellipse cx="3771.7" cy="1630.3" rx="41.5" ry="36"/><text x="3771.7" y="1627.3">[79]</text><text x="3771.7" y="1646.3">C: 8</text></g>
<g id="node80" class="node"><ellipse cx="2091.8" cy="1534.1" rx="41.5" ry="36"/><text x="2091.8" y="1531.1">[80]</text><text x="2091.8" y="1550.1">C: 3</text></g>
<g id="node81" class="node"><ellipse cx="3871.8" cy="1630.3" rx="51" ry="36"/><text x="3871.8" y="1627.3">[81]</text><text x="3871.8" y="1646.3">C: 14</text></g>
<g id="node82" class="node"><ellipse cx="2435.6" cy="1534.1" rx="51" ry="36"/><text x="2435.6" y="1531.1">[82]</text><text x="2435.6" y="1550.1">C: 10</text></g>
<g id="node83" class="node"><ellipse cx="3671.5" cy="1630.3" rx="51" ry="36"/><text x="3671.5" y="1627.3">[83]</text><text x="3671.5" y="1646.3">C: 29</text></g>
<g id="node84" class="node"><ellipse cx="1612.2" cy="1438.8" rx="41.5" ry="36"/><text x="1612.2" y="1435.8">[84]</text><text x="1612.2" y="1454.8">C: 1</text></g>
<g id="node85" class="node"><ellipse cx="1719.4" cy="1725.6" rx="41.5" ry="36"/><text x="1719.4" y="1722.6">[85]</text><text x="1719.4" y="1741.6">C: 3</text></g>
<g id="node86" class="node"><ellipse cx="2150.5" cy="1152" rx="51" ry="36"/><text x="2150.5" y="1149">[86]</text><text x="2150.5" y="1168">C: 15</text></g>
<g id="node87" class="node"><ellipse cx="1923.5" cy="1343.4" rx="51" ry="36"/><text x="1923.5" y="1340.4">[87]</text><text x="1923.5" y="1359.4">C: 18</text></g>
<g id="node88" class="node"><ellipse cx="2993" cy="1343.4" rx="51" ry="36"/><text x="2993" y="1340.4">[88]</text><text x="2993" y="1359.4">C: 18</text></g>
<g id="node89" class="node"><ellipse cx="1973.9" cy="1534.1" rx="51" ry="36"/><text x="1973.9" y="1531.1">[89]</text><text x="1973.9" y="1550.1">C: 10</text></g>
<g id="node90" class="node"><ellipse cx="2197.1" cy="1725.6" rx="51" ry="36"/><text x="2197.1" y="1722.6">[90]</text><text x="2197.1" y="1741.6">C: 22</text></g>
<g id="node91" class="node"><ellipse cx="2079.7" cy="1725.6" rx="41.5" ry="36"/><text x="2079.7" y="1722.6">[91]</text><text x="2079.7" y="1741.6">C: 5</text></g>
<g id="node92" class="node"><ellipse cx="2670.9" cy="1534.1" rx="51" ry="36"/><text x="2670.9" y="1531.1">[92]</text><text x="2670.9" y="1550.1">C: 18</text></g>
<g id="node93" class="node"><ellipse cx="2590.6" cy="1630.3" rx="51" ry="36"/><text x="2590.6" y="1627.3">[93]</text><text x="2590.6" y="1646.3">C: 19</text></g>
<g id="node94" class="node"><ellipse cx="2713" cy="1630.3" rx="51" ry="36"/><text x="2713" y="1627.3">[94]</text><text x="2713" y="1646.3">C: 29</text></g>
<g id="node95" class="node"><ellipse cx="3211.7" cy="865" rx="41.5" ry="36"/><text x="3211.7" y="862">[95]</text><text x="3211.7" y="881">C: 3</text></g>
<g id="node96" class="node"><ellipse cx="2552.3" cy="1534.1" rx="41.5" ry="36"/><text x="2552.3" y="1531.1">[96]</text><text x="2552.3" y="1550.1">C: 1</text></g>
<g id="node97" class="node"><ellipse cx="2383.9" cy="1725.6" rx="51" ry="36"/><text x="2383.9" y="1722.6">[97]</text><text x="2383.9" y="1741.6">C: 13</text></g>
<g id="node98" class="node"><ellipse cx="1551.7" cy="1725.6" rx="51" ry="36"/><text x="1551.7" y="1722.6">[98]</text><text x="1551.7" y="1741.6">C: 11</text></g>
<g id="node99" class="node"><ellipse cx="368" cy="1725.6" rx="51" ry="36"/><text x="368" y="1722.6">[99]</text><text x="368" y="1741.6">C: 25</text></g>
<g id="node100" class="node"><ellipse cx="493" cy="1725.6" rx="51" ry="36"/><text x="493" y="1722.6">[100]</text><text x="493" y="1741.6">C: 17</text></g>
<g id="node101" class="node"><ellipse cx="618.6" cy="1725.6" rx="51" ry="36"/><text x="618.6" y="1722.6">[101]</text><text x="618.6" y="1741.6">C: 17</text></g>
<g id="node102" class="node"><ellipse cx="743.6" cy="1725.6" rx="51" ry="36"/><text x="743.6" y="1722.6">[102]</text><text x="743.6" y="1741.6">C: 15</text></g>
<g id="node103" class="node"><ellipse cx="868.6" cy="1725.6" rx="51" ry="36"/><text x="868.6" y="1722.6">[103]</text><text x="868.6" y="1741.6">C: 8</text></g>
<g id="node104" class="node"><ellipse cx="994" cy="1725.6" rx="51" ry="36"/><text x="994" y="1722.6">[104]</text><text x="994" y="1741.6">C: 11</text></g>
<g id="node105" class="node"><ellipse cx="1244.9" cy="1725.6" rx="51" ry="36"/><text x="1244.9" y="1722.6">[105]</text><text x="1244.9" y="1741.6">C: 9</text></g>
<g id="node106" class="node"><ellipse cx="1119.9" cy="1725.6" rx="51" ry="36"/><text x="1119.9" y="1722.6">[106]</text><text x="1119.9" y="1741.6">C: 8</text></g>
<g id="node107" class="node"><ellipse cx="1962.4" cy="1725.6" rx="51" ry="36"/><text x="1962.4" y="1722.6">[107]</text><text x="1962.4" y="1741.6">C: 4</text></g>
<g id="node108" class="node"><ellipse cx="181.1" cy="1725.6" rx="51" ry="36"/><text x="181.1" y="1722.6">[108]</text><text x="181.1" y="1741.6">C: 18</text></g>
<g id="node109" class="node"><ellipse cx="56.1" cy="1725.6" rx="51" ry="36"/><text x="56.1" y="1722.6">[109]</text><text x="56.1" y="1741.6">C: 22</text></g>
<g id="node110" class="node"><ellipse cx="1401.1" cy="1534.1" rx="51" ry="36"/><text x="1401.1" y="1531.1">[110]</text><text x="1401.1" y="1550.1">C: 8</text></g>
<g id="node111" class="node"><ellipse cx="1798.5" cy="1534.1" rx="51" ry="36"/><text x="1798.5" y="1531.1">[111]</text><text x="1798.5" y="1550.1">C: 18</text></g>
<g id="node112" class="node"><ellipse cx="1366.7" cy="1630.3" rx="51" ry="36"/><text x="1366.7" y="1627.3">[112]</text><text x="1366.7" y="1646.3">C: 6</text></g>
<g id="node113" class="node"><ellipse cx="1836.7" cy="1725.6" rx="51" ry="36"/><text x="1836.7" y="1722.6">[113]</text><text x="1836.7" y="1741.6">C: 5</text></g>
<g id="node114" class="node"><ellipse cx="317" cy="1630.3" rx="51" ry="36"/><text x="317" y="1627.3">[114]</text><text x="317" y="1646.3">C: 29</text></g>
<g id="node115" class="node"><ellipse cx="2890.9" cy="1725.6" rx="51" ry="36"/><text x="2890.9" y="1722.6">[115]</text><text x="2890.9" y="1741.6">C: 14</text></g>
<g id="node116" class="node"><ellipse cx="2639.7" cy="1725.6" rx="51" ry="36"/><text x="2639.7" y="1722.6">[116]</text><text x="2639.7" y="1741.6">C: 6</text></g>
<g id="node117" class="node"><ellipse cx="2764.7" cy="1725.6" rx="51" ry="36"/><text x="2764.7" y="1722.6">[117]</text><text x="2764.7" y="1741.6">C: 26</text></g>
<g id="node118" class="node"><ellipse cx="3563.7" cy="1630.3" rx="51" ry="36"/><text x="3563.7" y="1627.3">[118]</text><text x="3563.7" y="1646.3">C: 18</text></g>
<g id="node119" class="node"><ellipse cx="2197.1" cy="1873.6" rx="68" ry="50" style="stroke-width:2.8"/><text x="2197.1" y="1862.6">[119]</text><text x="2197.1" y="1882.1">C: 2</text><text x="2197.1" y="1901.1">D: 1014</text></g>
</g>
</svg>
